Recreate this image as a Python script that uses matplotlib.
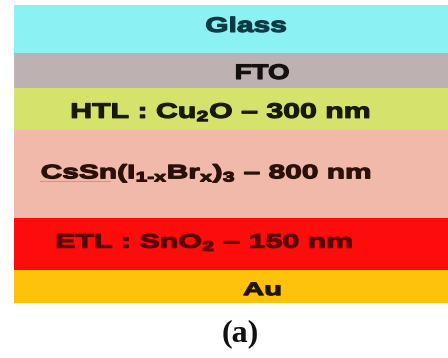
import matplotlib.pyplot as plt
from matplotlib.patheffects import AbstractPathEffect
from matplotlib.transforms import Affine2D

plt.rcParams["mathtext.fontset"] = "custom"
plt.rcParams["mathtext.rm"] = "Liberation Sans:bold"
plt.rcParams["mathtext.it"] = "Liberation Sans:bold"
plt.rcParams["mathtext.bf"] = "Liberation Sans:bold"

# device stack, top to bottom
layers = [
    "Glass",
    "FTO",
    r"HTL : Cu$_2$O – 300 nm",
    r"CsSn(I$_{1\text{-}x}$Br$_x$)$_3$ – 800 nm",
    r"ETL : SnO$_2$ – 150 nm",
    "Au",
]
layer_heights = [48, 35, 42, 88, 52, 33]
layer_colors = ["#8cf1f2", "#bdb1b1", "#d5e26c", "#f1b9aa", "#fe0b0b", "#ffc20a"]
text_colors = ["#0c3a44", "#141010", "#161a02", "#2a1008", "#5a0505", "#221500"]

# label layout: size (pt), centre x (axes frac), baseline (frac of layer), drawn width (px)
font_sizes = [15, 15, 15, 14, 14, 13]
text_x = [0.535, 0.572, 0.477, 0.444, 0.440, 0.572]
text_base = [0.56, 0.74, 0.71, 0.55, 0.57, 0.76]
text_width = [82, 55, 302, 333, 300, 39]


class Stretch(AbstractPathEffect):
    """Widen glyphs horizontally about their centre and thicken the strokes."""

    def __init__(self, sx=1.0, bold=0.9):
        super().__init__()
        self.sx = sx
        self.bold = bold

    def draw_path(self, renderer, gc, tpath, affine, rgbFace=None):
        ext = tpath.get_extents(affine)
        cx = 0.5 * (ext.x0 + ext.x1)
        aff = affine + Affine2D().translate(-cx, 0).scale(self.sx, 1).translate(cx, 0)
        gc0 = renderer.new_gc()
        gc0.copy_properties(gc)
        gc0.set_linewidth(self.bold)
        gc0.set_foreground(rgbFace)
        gc0.set_joinstyle("round")
        renderer.draw_path(gc0, tpath, aff, rgbFace)
        gc0.restore()


fig = plt.figure(figsize=(4.48, 3.58), dpi=100)
total = sum(layer_heights)
top_px, bottom_px, left_px = 5, 303, 14
ax = fig.add_axes([left_px / 448, 1 - bottom_px / 358, 1 - left_px / 448,
                   (bottom_px - top_px) / 358])
ax.set_xlim(0, 1)
ax.set_ylim(total, 0)
ax.axis("off")

labels = []
y = 0
for name, h, c, tc, fs, tx, tb in zip(layers, layer_heights, layer_colors,
                                      text_colors, font_sizes, text_x, text_base):
    ax.barh(y + h / 2, 1, height=h, left=0, color=c, edgecolor="none")
    t = ax.text(tx, y + h * tb, name, ha="center", va="baseline", fontsize=fs,
                fontweight="bold", family="Liberation Sans", color=tc)
    labels.append(t)
    y += h

# spell-check squiggle under the formula
cs_base = sum(layer_heights[:3]) + layer_heights[3] * 0.58
ax.plot([(40 - left_px) / 434, (110 - left_px) / 434], [cs_base, cs_base],
        color="#e86a6a", lw=0.8, alpha=0.6)

# widen each label to its drawn width
fig.canvas.draw()
renderer = fig.canvas.get_renderer()
for t, w in zip(labels, text_width):
    sx = w / t.get_window_extent(renderer).width
    t.set_path_effects([Stretch(sx)])

fig.text(240 / 448, 1 - 334 / 358, "(a)", ha="center", va="center", fontsize=23,
         fontweight="bold", family="Liberation Serif", color="#111111")

fig.savefig("out.png", dpi=100)
